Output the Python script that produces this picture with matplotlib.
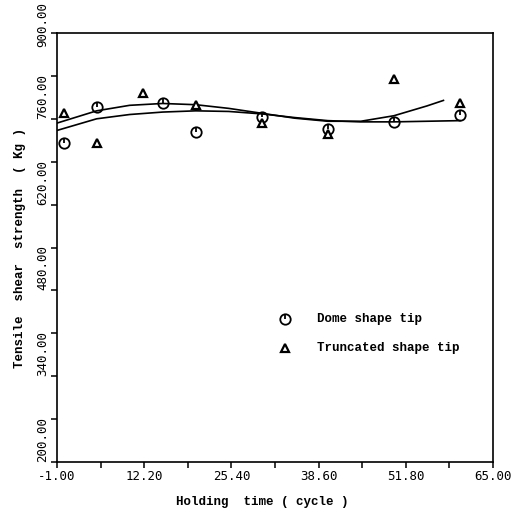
import matplotlib
matplotlib.use("Agg")
import matplotlib.pyplot as plt
from matplotlib.path import Path
from matplotlib.transforms import ScaledTranslation

# ---- data ----
dome_x = [0, 5, 15, 20, 30, 40, 50, 60]
dome_y = [721, 780, 785, 739, 763, 744, 755, 766]

trunc_x = [0, 5, 12, 20, 30, 40, 50, 60]
trunc_y = [770, 721, 802, 782, 753, 736, 825, 786]

# fitted curves as drawn in the reference
trunc_fit_x = [-1, 5, 10, 15, 20, 25, 30, 35, 40, 45, 50, 55, 57.5]
trunc_fit_y = [753, 773, 782, 785, 783, 777, 769, 761, 756, 756, 765, 781, 790]

dome_fit_x = [-1, 5, 10, 15, 20, 25, 30, 35, 40, 45, 50, 55, 60]
dome_fit_y = [741, 760, 767, 771, 773, 772, 768, 762, 757, 755, 755, 756, 757]

x_ticks = [-1.0, 12.2, 25.4, 38.6, 51.8, 65.0]
x_minor = [5.6, 18.8, 32.0, 45.2, 58.4]
y_ticks = [200, 340, 480, 620, 760, 900]
y_minor = [270, 410, 550, 690, 830]
x_labels = ["-1.00", "12.20", "25.40", "38.60", "51.80", "65.00"]
y_labels = ["200.00", "340.00", "480.00", "620.00", "760.00", "900.00"]

legend_labels = ["Dome shape tip", "Truncated shape tip"]
x_title = "Holding  time ( cycle )"
y_title = "Tensile  shear  strength  ( Kg )"

# ---- figure ----
fig = plt.figure(figsize=(5.22, 5.14), dpi=100)
ax = fig.add_axes([57/522, 1 - 462/514, 436/522, 429/514])

text_font = "Liberation Mono"
tick_font = "DejaVu Sans Mono"

ax.plot(trunc_fit_x, trunc_fit_y, color="black", lw=1.2)
ax.plot(dome_fit_x, dome_fit_y, color="black", lw=1.2)

tick_path = Path([(0, 0), (0, 1)], [Path.MOVETO, Path.LINETO])

ax.plot(dome_x, dome_y, linestyle="none", marker="o", ms=7.5, mfc="none",
        mec="black", mew=1.3)
ax.plot(dome_x, dome_y, linestyle="none", marker=tick_path, ms=7.5,
        mec="black", mew=1.3)
ax.plot(trunc_x, trunc_y, linestyle="none", marker="^", ms=6, mfc="white",
        mec="black", mew=1.6)

ax.set_xlim(x_ticks[0], x_ticks[-1])
ax.set_ylim(y_ticks[0], y_ticks[-1])

ax.set_xticks(x_ticks)
ax.set_xticks(x_minor, minor=True)
ax.set_yticks(y_ticks)
ax.set_yticks(y_minor, minor=True)

ax.tick_params(axis="both", which="both", direction="out", length=4,
               width=1.1, pad=1.5)

ax.set_xticklabels(x_labels, fontfamily=tick_font, fontsize=9)
ax.set_yticklabels(y_labels, fontfamily=tick_font, fontsize=9,
                   rotation=90, va="bottom")
# keep the top label inside the picture: it hangs down beside the frame
top_lab = ax.yaxis.get_major_ticks()[-1].label1
top_lab.set_transform(top_lab.get_transform() +
                      ScaledTranslation(0, -0.14, fig.dpi_scale_trans))

for s in ax.spines.values():
    s.set_linewidth(1.2)

ax.set_xlabel(x_title, fontfamily=text_font, fontsize=9, fontweight="bold")
ax.xaxis.set_label_coords(0.47, -0.08)
ax.set_ylabel(y_title, fontfamily=text_font, fontsize=9, fontweight="bold")
ax.yaxis.set_label_coords(-0.072, 0.5)

# legend (manual placement)
lx, tx = 0.523, 0.596
rows = [0.333, 0.266]
ax.plot([lx], [rows[0]], transform=ax.transAxes, clip_on=False,
        linestyle="none", marker="o", ms=7.5, mfc="none", mec="black", mew=1.3)
ax.plot([lx], [rows[0]], transform=ax.transAxes, clip_on=False,
        linestyle="none", marker=tick_path, ms=7.5, mec="black", mew=1.3)
ax.plot([lx], [rows[1]], transform=ax.transAxes, clip_on=False,
        linestyle="none", marker="^", ms=6, mfc="white", mec="black", mew=1.6)
for r, lab in zip(rows, legend_labels):
    ax.text(tx, r, lab, transform=ax.transAxes, va="center", ha="left",
            fontfamily=text_font, fontsize=9, fontweight="bold")

fig.savefig("out.png", dpi=100)
